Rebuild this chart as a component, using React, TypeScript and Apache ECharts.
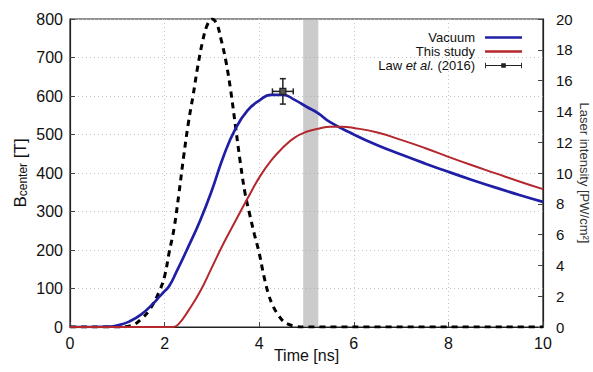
import React, { useEffect, useRef } from "react";
import * as echarts from "echarts";

// Vacuum B_center [T]
const vacuumTime = [0, 0.5, 0.85, 1.0, 1.25, 1.5, 1.75, 1.9, 2.0, 2.1, 2.25, 2.5, 2.75, 3.0, 3.25, 3.5, 3.75, 4.0, 4.25, 4.5, 4.75, 5.0, 5.25, 5.5, 6, 6.5, 7, 7.5, 8, 8.5, 9, 9.5, 10];
const vacuumB = [0, 0, 1, 4, 14, 32, 60, 80, 93, 107, 143, 208, 276, 355, 445, 515, 562, 588, 603, 603, 590, 572, 555, 532, 500, 472, 448, 425, 403, 382, 362, 343, 325];

// This study B_center [T]
const studyTime = [0, 2.0, 2.18, 2.3, 2.5, 2.75, 3.0, 3.25, 3.5, 3.75, 4.0, 4.25, 4.5, 4.75, 5.0, 5.25, 5.5, 5.75, 6, 6.5, 7, 7.5, 8, 8.5, 9, 9.5, 10];
const studyB = [0, 0, 0, 8, 42, 92, 155, 218, 276, 333, 388, 432, 466, 492, 507, 515, 520, 520, 517, 505, 486, 465, 442, 420, 399, 378, 358];

// Laser intensity [PW/cm^2]
const laserTime = [0, 1.0, 1.3, 1.5, 1.7, 1.9, 2.0, 2.1, 2.2, 2.3, 2.4, 2.5, 2.6, 2.7, 2.8, 2.9, 3.0, 3.1, 3.2, 3.3, 3.4, 3.5, 3.6, 3.7, 3.8, 3.9, 4.0, 4.1, 4.2, 4.3, 4.4, 4.5, 4.6, 4.75, 5, 10];
const laserI = [0, 0, 0.1, 0.5, 1.2, 2.4, 3.3, 4.9, 6.4, 8.6, 11, 13.2, 15, 16.9, 18.5, 19.6, 20, 19.7, 18.6, 17.2, 15.3, 13, 10.7, 8.7, 7.3, 6.0, 4.8, 3.3, 2.1, 1.3, 0.8, 0.4, 0.2, 0.05, 0, 0];

// Law et al. (2016) measurement
const lawTime = [4.5];
const lawB = [612];
const lawTimeErr = [0.22];
const lawBErr = [33];

// Shaded band [ns]
const bandRange = [4.93, 5.25];

const xTicks = { min: 0, max: 10, interval: 2 };
const yLeftTicks = { min: 0, max: 800, interval: 100 };
const yRightTicks = { min: 0, max: 20, interval: 2 };

const FONT = "Liberation Sans, Arial, Helvetica, sans-serif";

const lineIcon = "path://M0,0h40v2.6h-40z";
const errIcon = "path://M0,2.5h40v1h-40z M0,0h1v6h-1z M39,0h1v6h-1z M17.5,0.5h5v5h-5z";

export default function App() {
  const ref = useRef<HTMLDivElement>(null);
  useEffect(() => {
    if (!ref.current) return;
    const chart = echarts.init(ref.current, null, { renderer: "svg" });
    const pairs = (xs: number[], ys: number[]) => xs.map((x, i) => [x, ys[i]]);
    const lawData = lawTime.map((t, i) => [t, lawB[i], lawTimeErr[i], lawBErr[i]]);

    chart.setOption({
      animation: false,
      backgroundColor: "#fff",
      grid: {
        left: 70, right: 50, top: 19, bottom: 45,
        outerBoundsMode: "none", containLabel: false,
        show: true, borderColor: "#222", borderWidth: 1.2, backgroundColor: "transparent",
      },
      legend: {
        orient: "vertical",
        right: 66,
        top: 26,
        align: "right",
        itemWidth: 37,
        itemHeight: 10,
        itemGap: 1,
        selectedMode: false,
        textStyle: {
          fontFamily: FONT,
          fontSize: 13,
          color: "#111",
          lineHeight: 13,
          padding: [0, 5, 0, 0],
          rich: {
            n: { fontFamily: FONT, fontSize: 13, color: "#111", lineHeight: 13 },
            i: { fontFamily: FONT, fontSize: 13, fontStyle: "italic", color: "#111", lineHeight: 13 },
          },
        },
        formatter: (name: string) => (name.startsWith("Law") ? "{n|Law }{i|et al.}{n| (2016)}" : name),
        data: [
          { name: "Vacuum", icon: lineIcon },
          { name: "This study", icon: lineIcon },
          { name: "Law et al. (2016)", icon: errIcon },
        ],
      },
      xAxis: {
        type: "value",
        min: xTicks.min,
        max: xTicks.max,
        interval: xTicks.interval,
        name: "Time [ns]",
        nameLocation: "middle",
        nameGap: 20,
        nameMoveOverlap: false,
        nameTextStyle: { fontFamily: FONT, fontSize: 16, color: "#111" },
        axisLine: { show: true, lineStyle: { color: "#222", width: 1.2 } },
        axisTick: { show: true, inside: true, length: 5, lineStyle: { color: "#444" } },
        axisLabel: { fontFamily: FONT, fontSize: 16, color: "#111", margin: 8 },
        splitLine: { show: true, lineStyle: { color: "#c4c4c4", type: [1, 3], width: 1 } },
      },
      yAxis: [
        {
          type: "value",
          min: yLeftTicks.min,
          max: yLeftTicks.max,
          interval: yLeftTicks.interval,
          position: "left",
          name: "{b|B}{s|center}{b| [T]}",
          nameLocation: "middle",
          nameGap: 41,
          nameMoveOverlap: false,
          nameRotate: 90,
          nameTextStyle: {
            rich: {
              b: { fontFamily: FONT, fontSize: 17, color: "#111" },
              s: { fontFamily: FONT, fontSize: 12, color: "#111", verticalAlign: "bottom", padding: [6, 0, 0, 0] },
            },
          },
          axisLine: { show: true, lineStyle: { color: "#222", width: 1.2 } },
          axisTick: { show: true, inside: true, length: 5, lineStyle: { color: "#444" } },
          axisLabel: { fontFamily: FONT, fontSize: 16, color: "#111", margin: 7 },
          splitLine: { show: true, lineStyle: { color: "#c4c4c4", type: [1, 3], width: 1 } },
        },
        {
          type: "value",
          min: yRightTicks.min,
          max: yRightTicks.max,
          interval: yRightTicks.interval,
          position: "right",
          name: "Laser intensity [PW/cm²]",
          nameLocation: "middle",
          nameGap: 35,
          nameMoveOverlap: false,
          nameRotate: -90,
          nameTextStyle: { fontFamily: FONT, fontSize: 13, color: "#333" },
          axisLine: { show: true, lineStyle: { color: "#222", width: 1.2 } },
          axisTick: { show: true, inside: true, length: 5, lineStyle: { color: "#444" } },
          axisLabel: { fontFamily: FONT, fontSize: 15, color: "#111", margin: 13 },
          splitLine: { show: false },
        },
      ],
      series: [
        {
          name: "Laser",
          type: "line",
          yAxisIndex: 1,
          data: pairs(laserTime, laserI),
          smooth: 0.4,
          symbol: "none",
          lineStyle: { color: "#000", width: 3, type: [6, 5] },
          z: 2,
        },
        {
          name: "Vacuum",
          type: "line",
          data: pairs(vacuumTime, vacuumB),
          smooth: 0.5,
          symbol: "none",
          itemStyle: { color: "#1f1fa6" },
          lineStyle: { color: "#1f1fa6", width: 2.7 },
          z: 3,
        },
        {
          name: "This study",
          type: "line",
          data: pairs(studyTime, studyB),
          smooth: 0.5,
          symbol: "none",
          itemStyle: { color: "#b3272d" },
          lineStyle: { color: "#b3272d", width: 2 },
          z: 3,
        },
        {
          name: "Law et al. (2016)",
          type: "custom",
          data: lawData,
          itemStyle: { color: "#222" },
          z: 5,
          renderItem: (params: any, api: any) => {
            const x = api.value(0), y = api.value(1), xe = api.value(2), ye = api.value(3);
            const c = api.coord([x, y]);
            const l = api.coord([x - xe, y]);
            const r = api.coord([x + xe, y]);
            const t = api.coord([x, y + ye]);
            const b = api.coord([x, y - ye]);
            const st = { stroke: "#222", lineWidth: 1.5 };
            return {
              type: "group",
              children: [
                { type: "line", shape: { x1: l[0], y1: l[1], x2: r[0], y2: r[1] }, style: st },
                { type: "line", shape: { x1: c[0], y1: t[1], x2: c[0], y2: b[1] }, style: st },
                { type: "line", shape: { x1: l[0], y1: l[1] - 3, x2: l[0], y2: l[1] + 3 }, style: st },
                { type: "line", shape: { x1: r[0], y1: r[1] - 3, x2: r[0], y2: r[1] + 3 }, style: st },
                { type: "line", shape: { x1: c[0] - 3, y1: t[1], x2: c[0] + 3, y2: t[1] }, style: st },
                { type: "line", shape: { x1: c[0] - 3, y1: b[1], x2: c[0] + 3, y2: b[1] }, style: st },
                { type: "rect", shape: { x: c[0] - 3, y: c[1] - 3, width: 6, height: 6 }, style: { fill: "#555", stroke: "#222", lineWidth: 1.2 } },
              ],
            };
          },
        },
        {
          name: "band",
          type: "line",
          data: [],
          symbol: "none",
          z: 4,
          markArea: {
            silent: true,
            itemStyle: { color: "rgba(160,160,160,0.55)" },
            data: [[{ xAxis: bandRange[0] }, { xAxis: bandRange[1] }]],
          },
        },
      ],
    });
    return () => chart.dispose();
  }, []);
  return <div ref={ref} style={{ width: 593, height: 372, position: "absolute", left: 0, top: 0 }} />;
}
